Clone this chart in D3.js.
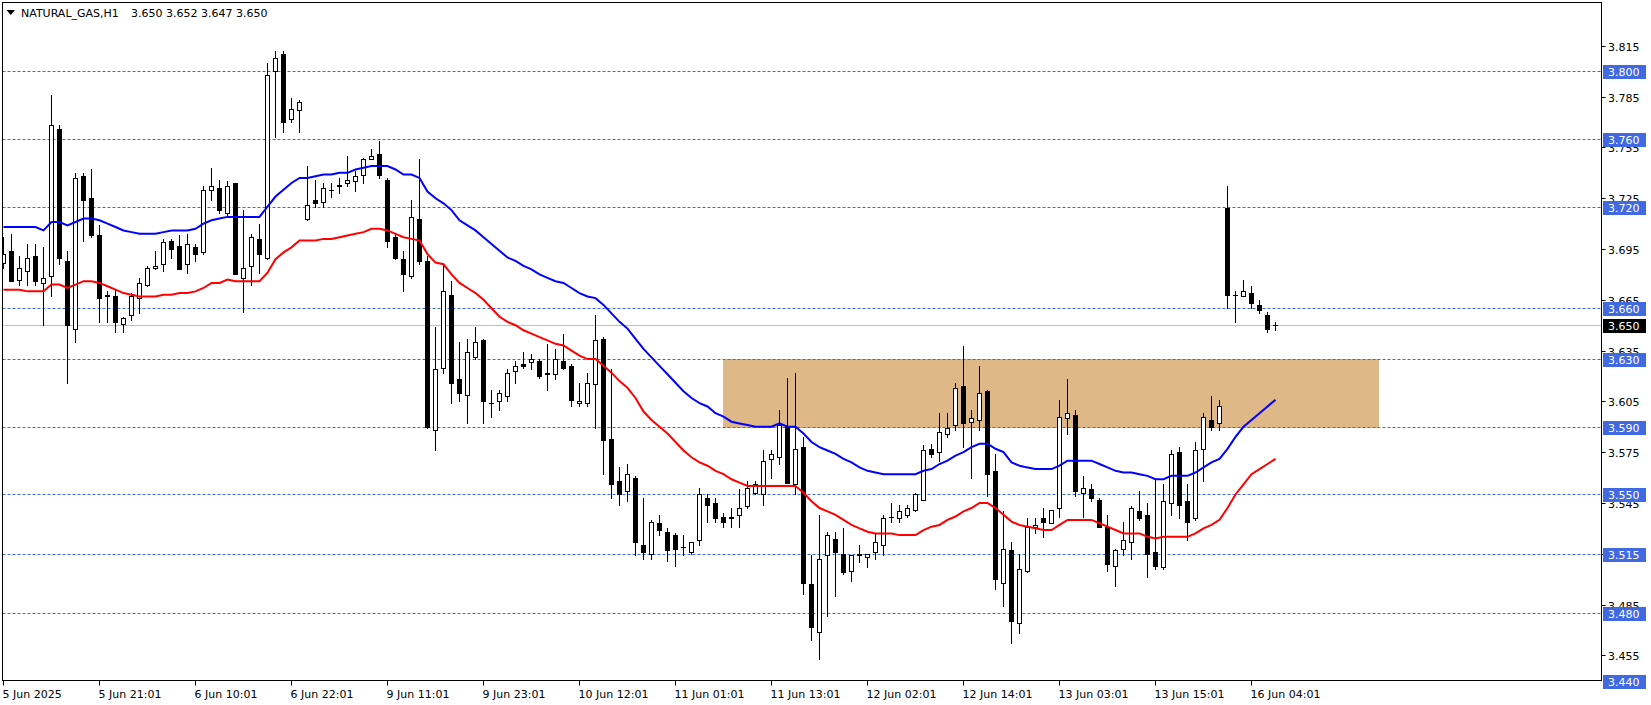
<!DOCTYPE html>
<html><head><meta charset="utf-8">
<script src="https://cdn.jsdelivr.net/npm/d3@7"></script>
<style>
body{margin:0;background:#fff;}
svg{display:block;}
text{font-family:"DejaVu Sans",sans-serif;font-size:11px;}
</style>
</head><body>
<svg id="c" width="1651" height="705"></svg>
<script>
// ---- DATA ----
const symbolTitle = "NATURAL_GAS,H1";
const titleValues = "3.650 3.652 3.647 3.650";
const opens = [
3.687,3.694,3.677,3.682,3.691,3.675,3.679,3.766,3.688,3.648,
3.738,3.725,3.703,3.667,3.667,3.651,3.656,3.666,3.674,3.684,
3.686,3.700,3.697,3.686,3.696,3.693,3.730,3.731,3.716,3.734,
3.678,3.685,3.701,3.690,3.800,3.810,3.772,3.777,3.713,3.724,
3.723,3.730,3.733,3.734,3.735,3.739,3.748,3.751,3.736,3.702,
3.689,3.679,3.713,3.688,3.588,3.625,3.668,3.618,3.609,3.631,
3.641,3.604,3.605,3.608,3.623,3.627,3.628,3.629,3.621,3.621,
3.629,3.626,3.604,3.604,3.615,3.642,3.583,3.558,3.552,3.560,
3.520,3.515,3.533,3.528,3.526,3.519,3.516,3.523,3.548,3.545,
3.537,3.536,3.538,3.543,3.551,3.550,3.571,3.572,3.590,3.556,
3.578,3.497,3.469,3.514,3.524,3.515,3.505,3.515,3.513,3.516,
3.520,3.537,3.536,3.538,3.541,3.547,3.577,3.575,3.586,3.591,
3.614,3.593,3.594,3.611,3.564,3.498,3.517,3.474,3.505,3.531,
3.536,3.533,3.542,3.595,3.597,3.551,3.553,3.547,3.531,3.508,
3.518,3.522,3.540,3.538,3.516,3.507,3.545,3.575,3.546,3.536,
3.577,3.594,3.592,3.719,3.668,3.667,3.669,3.662,3.656,3.650];
const highs = [
3.702,3.704,3.691,3.698,3.698,3.696,3.786,3.768,3.694,3.740,
3.740,3.742,3.709,3.670,3.671,3.655,3.669,3.678,3.685,3.694,
3.701,3.701,3.703,3.704,3.698,3.732,3.743,3.736,3.735,3.734,
3.718,3.704,3.710,3.805,3.812,3.812,3.784,3.783,3.744,3.736,
3.734,3.734,3.737,3.750,3.741,3.749,3.754,3.759,3.737,3.704,
3.694,3.724,3.748,3.691,3.649,3.686,3.676,3.640,3.642,3.649,
3.642,3.612,3.612,3.624,3.629,3.634,3.633,3.630,3.639,3.636,
3.645,3.627,3.616,3.622,3.656,3.643,3.624,3.566,3.568,3.561,
3.548,3.535,3.538,3.530,3.527,3.526,3.522,3.554,3.550,3.548,
3.539,3.542,3.553,3.558,3.558,3.576,3.576,3.600,3.619,3.622,
3.584,3.514,3.538,3.528,3.528,3.530,3.514,3.520,3.515,3.527,
3.538,3.545,3.544,3.544,3.551,3.579,3.580,3.598,3.598,3.616,
3.638,3.600,3.626,3.612,3.574,3.540,3.522,3.515,3.536,3.536,
3.542,3.541,3.606,3.618,3.600,3.561,3.556,3.548,3.538,3.518,
3.534,3.543,3.552,3.545,3.559,3.556,3.576,3.578,3.556,3.581,
3.598,3.608,3.606,3.732,3.670,3.677,3.673,3.665,3.658,3.652];
const lows = [
3.684,3.676,3.674,3.674,3.674,3.650,3.667,3.686,3.616,3.640,
3.700,3.702,3.652,3.652,3.646,3.646,3.653,3.657,3.673,3.683,
3.682,3.690,3.683,3.681,3.688,3.692,3.724,3.716,3.714,3.680,
3.658,3.674,3.681,3.689,3.761,3.764,3.770,3.764,3.712,3.720,
3.720,3.726,3.728,3.732,3.729,3.734,3.748,3.737,3.696,3.689,
3.670,3.678,3.686,3.589,3.576,3.622,3.604,3.605,3.592,3.630,
3.592,3.596,3.600,3.605,3.616,3.625,3.624,3.619,3.612,3.618,
3.624,3.602,3.602,3.602,3.589,3.562,3.548,3.544,3.546,3.514,
3.512,3.512,3.526,3.511,3.508,3.514,3.515,3.520,3.534,3.534,
3.531,3.531,3.531,3.542,3.550,3.544,3.560,3.568,3.557,3.550,
3.491,3.464,3.453,3.478,3.490,3.503,3.499,3.510,3.507,3.512,
3.514,3.534,3.534,3.537,3.540,3.547,3.572,3.570,3.584,3.588,
3.578,3.560,3.588,3.549,3.494,3.484,3.462,3.468,3.504,3.527,
3.525,3.533,3.537,3.586,3.549,3.537,3.546,3.531,3.505,3.496,
3.514,3.512,3.535,3.501,3.506,3.506,3.538,3.536,3.523,3.535,
3.558,3.588,3.588,3.660,3.652,3.667,3.660,3.657,3.646,3.647];
const closes = [
3.692,3.676,3.684,3.690,3.676,3.678,3.768,3.690,3.650,3.737,
3.724,3.703,3.666,3.668,3.652,3.654,3.667,3.675,3.684,3.685,
3.699,3.695,3.683,3.698,3.692,3.730,3.732,3.718,3.732,3.680,
3.684,3.702,3.692,3.798,3.808,3.770,3.778,3.782,3.721,3.722,
3.731,3.730,3.732,3.736,3.738,3.748,3.750,3.739,3.700,3.690,
3.680,3.714,3.688,3.590,3.624,3.670,3.616,3.610,3.634,3.640,
3.605,3.604,3.610,3.622,3.626,3.626,3.630,3.620,3.622,3.630,
3.625,3.606,3.605,3.616,3.641,3.582,3.556,3.550,3.562,3.522,
3.516,3.534,3.529,3.517,3.518,3.519,3.522,3.550,3.544,3.536,
3.534,3.537,3.542,3.554,3.556,3.570,3.574,3.591,3.557,3.577,
3.498,3.472,3.512,3.526,3.516,3.504,3.514,3.514,3.515,3.522,
3.536,3.537,3.540,3.542,3.550,3.576,3.574,3.587,3.589,3.613,
3.592,3.595,3.610,3.562,3.500,3.518,3.475,3.506,3.531,3.532,
3.534,3.541,3.596,3.598,3.552,3.554,3.548,3.531,3.509,3.517,
3.523,3.542,3.536,3.515,3.508,3.546,3.574,3.544,3.534,3.576,
3.596,3.590,3.602,3.668,3.668,3.670,3.663,3.659,3.648,3.650];
const maBlue = [
3.708,3.708,3.708,3.708,3.708,3.706,3.711,3.711,3.709,3.711,
3.713,3.713,3.712,3.710,3.708,3.706,3.705,3.704,3.704,3.704,
3.705,3.706,3.706,3.706,3.707,3.710,3.712,3.713,3.714,3.714,
3.714,3.714,3.714,3.720,3.726,3.730,3.734,3.737,3.737,3.738,
3.739,3.739,3.740,3.740,3.742,3.743,3.744,3.744,3.744,3.742,
3.739,3.739,3.737,3.729,3.725,3.722,3.718,3.712,3.709,3.706,
3.702,3.698,3.694,3.690,3.688,3.685,3.683,3.680,3.678,3.676,
3.675,3.672,3.669,3.667,3.666,3.662,3.657,3.652,3.648,3.642,
3.636,3.631,3.626,3.621,3.616,3.611,3.607,3.604,3.602,3.598,
3.596,3.593,3.592,3.591,3.590,3.590,3.590,3.592,3.590,3.590,
3.586,3.581,3.578,3.576,3.574,3.571,3.569,3.566,3.564,3.563,
3.562,3.562,3.562,3.562,3.562,3.564,3.565,3.568,3.570,3.573,
3.575,3.578,3.580,3.580,3.577,3.575,3.569,3.567,3.566,3.565,
3.565,3.565,3.567,3.570,3.570,3.570,3.570,3.568,3.566,3.564,
3.563,3.563,3.562,3.561,3.559,3.559,3.561,3.561,3.561,3.563,
3.566,3.569,3.571,3.577,3.584,3.590,3.594,3.598,3.602,3.606];
const maRed = [
3.671,3.671,3.671,3.670,3.670,3.670,3.674,3.674,3.672,3.674,
3.676,3.676,3.675,3.673,3.671,3.669,3.668,3.667,3.667,3.667,
3.668,3.668,3.669,3.669,3.670,3.672,3.675,3.675,3.677,3.676,
3.676,3.676,3.676,3.681,3.689,3.693,3.696,3.700,3.700,3.700,
3.701,3.701,3.702,3.703,3.704,3.705,3.707,3.707,3.706,3.704,
3.702,3.701,3.700,3.692,3.687,3.686,3.680,3.675,3.672,3.669,
3.665,3.660,3.655,3.652,3.650,3.647,3.645,3.643,3.641,3.639,
3.638,3.635,3.632,3.630,3.630,3.626,3.622,3.617,3.613,3.607,
3.599,3.594,3.590,3.586,3.581,3.576,3.572,3.569,3.567,3.564,
3.562,3.559,3.557,3.555,3.555,3.555,3.555,3.555,3.555,3.555,
3.551,3.546,3.542,3.540,3.538,3.535,3.532,3.530,3.528,3.527,
3.527,3.527,3.526,3.526,3.526,3.529,3.531,3.532,3.535,3.537,
3.540,3.542,3.545,3.545,3.542,3.538,3.534,3.532,3.531,3.530,
3.529,3.529,3.532,3.535,3.535,3.535,3.535,3.533,3.531,3.529,
3.527,3.527,3.527,3.525,3.524,3.525,3.525,3.525,3.525,3.527,
3.530,3.532,3.535,3.542,3.550,3.556,3.562,3.565,3.568,3.571];
const timeLabels = ["5 Jun 2025","5 Jun 21:01","6 Jun 10:01","6 Jun 22:01","9 Jun 11:01","9 Jun 23:01","10 Jun 12:01","11 Jun 01:01","11 Jun 13:01","12 Jun 02:01","12 Jun 14:01","13 Jun 03:01","13 Jun 15:01","16 Jun 04:01"];
const timeLabelBars = [0,12,24,36,48,60,72,84,96,108,120,132,144,156];
const priceTicks = [3.455,3.485,3.515,3.545,3.575,3.605,3.635,3.665,3.695,3.725,3.755,3.785,3.815];
const levelLines = [3.800,3.760,3.720,3.660,3.630,3.590,3.550,3.515,3.480,3.440];
const lastPrice = 3.650;
const zoneLow = 3.590, zoneHigh = 3.630;
const zoneStartBar = 89.94, zoneEndBar = 171.94;

// ---- LAYOUT ----
const svg = d3.select("#c");
const L = 2.5, R = 1601.5, T = 2.5, B = 680.5;
const x = d3.scaleLinear().domain([0, 159]).range([3.5, 1275.5]);
const y = d3.scaleLinear().domain([3.440, 3.800]).range([680.7, 71.3]);
const py = v => Math.round(y(v)) + 0.5;
const fmt = d3.format(".3f");
const LEVEL = "#4169E1";

svg.append("rect").attr("width",1651).attr("height",705).attr("fill","#fff");
svg.append("clipPath").attr("id","pc").append("rect")
  .attr("x",3).attr("y",3).attr("width",R-3).attr("height",B-3);
const plot = svg.append("g").attr("clip-path","url(#pc)");

// zone rectangle
plot.append("rect")
  .attr("x", Math.round(x(zoneStartBar)))
  .attr("y", Math.round(y(zoneHigh)))
  .attr("width", Math.round(x(zoneEndBar)) - Math.round(x(zoneStartBar)))
  .attr("height", Math.round(y(zoneLow)) - Math.round(y(zoneHigh)) + 1)
  .attr("fill","#DEB887");

// last price line
plot.append("line").attr("x1",L).attr("x2",R).attr("y1",py(lastPrice)).attr("y2",py(lastPrice))
  .attr("stroke","#C0C0C0").attr("stroke-width",1);

// level lines
plot.selectAll("line.lvl").data(levelLines).enter().append("line").attr("class","lvl")
  .attr("x1",L).attr("x2",R).attr("y1",d=>py(d)).attr("y2",d=>py(d))
  .attr("stroke",LEVEL).attr("stroke-width",1).attr("stroke-dasharray","3,2");

// candles
const bars = d3.range(opens.length).map(i => ({i, o:opens[i], h:highs[i], l:lows[i], c:closes[i]}));
const cg = plot.append("g");
bars.forEach(b => {
  const cx = x(b.i);
  cg.append("line").attr("x1",cx).attr("x2",cx)
    .attr("y1",Math.round(y(b.h))).attr("y2",Math.round(y(b.l))+1)
    .attr("stroke","#000").attr("stroke-width",1);
  const yTop = Math.round(y(Math.max(b.o,b.c)));
  const yBot = Math.round(y(Math.min(b.o,b.c)));
  if (yBot - yTop < 1) {
    cg.append("line").attr("x1",cx-2.5).attr("x2",cx+2.5)
      .attr("y1",yTop+0.5).attr("y2",yTop+0.5).attr("stroke","#000");
  } else if (b.c >= b.o) {
    cg.append("rect").attr("x",cx-2).attr("y",yTop+0.5).attr("width",4).attr("height",yBot-yTop)
      .attr("fill","#fff").attr("stroke","#000").attr("stroke-width",1);
  } else {
    cg.append("rect").attr("x",cx-2.5).attr("y",yTop).attr("width",5).attr("height",yBot-yTop+1)
      .attr("fill","#000");
  }
});

// moving averages
const line = d3.line().x((d,i)=>x(i)).y(d=>y(d));
plot.append("path").datum(maBlue).attr("d",line).attr("fill","none").attr("stroke","#0000FF").attr("stroke-width",2);
plot.append("path").datum(maRed).attr("d",line).attr("fill","none").attr("stroke","#FF0000").attr("stroke-width",2);

// frame
svg.append("rect").attr("x",L).attr("y",T).attr("width",R-L).attr("height",B-T)
  .attr("fill","none").attr("stroke","#000").attr("stroke-width",1);

// price axis ticks
const pa = svg.append("g");
priceTicks.forEach(p => {
  const yy = py(p);
  pa.append("line").attr("x1",R).attr("x2",R+4).attr("y1",yy).attr("y2",yy).attr("stroke","#000");
  pa.append("text").attr("x",1608).attr("y",yy+4).attr("fill","#000").text(fmt(p));
});
// level labels
levelLines.forEach(p => {
  const yy = Math.round(y(p));
  pa.append("rect").attr("x",1603).attr("y",yy-6).attr("width",43).attr("height",14).attr("fill",LEVEL);
  pa.append("text").attr("x",1608).attr("y",yy+5).attr("fill","#fff").text(fmt(p));
});
{
  const yy = Math.round(y(lastPrice));
  pa.append("rect").attr("x",1603).attr("y",yy-6).attr("width",43).attr("height",14).attr("fill","#000");
  pa.append("text").attr("x",1608).attr("y",yy+5).attr("fill","#fff").text(fmt(lastPrice));
}

// time axis
const ta = svg.append("g");
timeLabelBars.forEach((bi,k) => {
  const tx = x(bi);
  ta.append("line").attr("x1",tx).attr("x2",tx).attr("y1",B).attr("y2",B+5).attr("stroke","#000");
  ta.append("text").attr("x",tx-1).attr("y",698).attr("fill","#000").text(timeLabels[k]);
});

// title
svg.append("path").attr("d","M6.5,10 L15,10 L10.75,15 Z").attr("fill","#000");
svg.append("text").attr("x",21).attr("y",17).attr("fill","#000").text(symbolTitle);
svg.append("text").attr("x",131).attr("y",17).attr("fill","#000").text(titleValues);
</script>
</body></html>
